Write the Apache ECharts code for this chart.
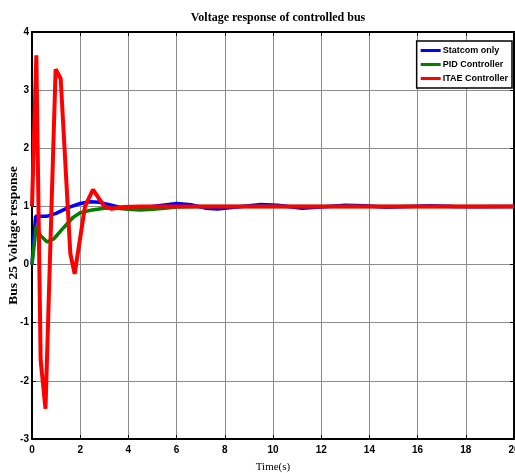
<!DOCTYPE html>
<html>
<head>
<meta charset="utf-8">
<script src="https://cdn.jsdelivr.net/npm/echarts@6/dist/echarts.min.js"></script>
<style>
  html, body { margin: 0; padding: 0; background: #fff; }
  #main { width: 515px; height: 473px; }
</style>
</head>
<body>
<div id="main"></div>
<script>
// 从图上读出来的数据 [时间, 电压]
var statcomOnly = [
    [0, 0], [0.08, 0.5], [0.15, 0.83], [0.6, 0.83], [1.0, 0.88], [1.5, 0.98],
    [2.0, 1.05], [2.4, 1.08], [2.8, 1.07], [3.3, 1.02], [3.8, 0.97], [4.2, 0.96],
    [5.0, 1.0], [6.0, 1.05], [6.6, 1.03], [7.2, 0.97], [7.7, 0.955], [8.5, 0.99],
    [9.5, 1.035], [10.2, 1.02], [11.2, 0.97], [12.0, 0.99], [13.0, 1.02],
    [13.8, 1.01], [14.7, 0.985], [15.6, 1.0], [16.5, 1.01], [17.5, 1.0],
    [18.3, 0.995], [20, 1.0]
];
var pidController = [
    [0, 0], [0.18, 0.67], [0.35, 0.5], [0.63, 0.39], [0.9, 0.44], [1.3, 0.63],
    [1.7, 0.81], [2.0, 0.89], [2.5, 0.94], [3.0, 0.97], [3.5, 0.97], [4.0, 0.95],
    [4.5, 0.94], [5.0, 0.95], [5.5, 0.97], [6.0, 0.99], [7.0, 1.0], [20, 1.0]
];
var itaeController = [
    [0, 1.0], [0.18, 3.6], [0.36, -1.65], [0.56, -2.48], [0.98, 3.36],
    [1.19, 3.2], [1.59, 0.19], [1.77, -0.16], [2.2, 1.0], [2.53, 1.29],
    [3.0, 1.0], [3.3, 0.96], [3.8, 0.99], [4.5, 1.0], [20, 1.0]
];

var chart = echarts.init(document.getElementById('main'));

var tickFont = {
    fontFamily: '"Liberation Sans Narrow", "Liberation Sans", Arial, sans-serif',
    fontWeight: 'bold',
    fontSize: 10,
    color: '#000'
};

var frameLine = { onZero: false, lineStyle: { color: '#000', width: 2 } };
var frameTick = { inside: true, length: 4, lineStyle: { color: '#000' } };

var option = {
    animation: false,
    backgroundColor: '#fff',
    title: {
        text: 'Voltage response of controlled bus',
        left: 273,
        top: 7,
        textAlign: 'center',
        textStyle: {
            fontFamily: '"Liberation Serif", "Times New Roman", serif',
            fontWeight: 'bold',
            fontSize: 12,
            color: '#000'
        }
    },
    legend: {
        orient: 'vertical',
        right: 3,
        top: 41,
        icon: 'rect',
        itemWidth: 20,
        itemHeight: 3,
        itemGap: 5,
        padding: [5, 4, 5, 4],
        borderColor: '#000',
        borderWidth: 1.5,
        backgroundColor: '#fff',
        textStyle: {
            fontFamily: tickFont.fontFamily,
            fontWeight: 'bold',
            fontSize: 9,
            color: '#000',
            padding: [0, 0, 0, -3]
        },
        data: ['Statcom only', 'PID Controller', 'ITAE Controller']
    },
    grid: {
        left: 32,
        right: 1,
        top: 32,
        bottom: 34,
        outerBoundsMode: 'none',
        containLabel: false
    },
    xAxis: [
        {
            type: 'value',
            min: 0,
            max: 20,
            interval: 2,
            name: 'Time(s)',
            nameLocation: 'middle',
            nameGap: 23,
            nameMoveOverlap: false,
            nameTextStyle: {
                fontFamily: '"Liberation Serif", "Times New Roman", serif',
                fontSize: 11,
                color: '#000'
            },
            axisLine: frameLine,
            axisTick: frameTick,
            axisLabel: Object.assign({ margin: 6 }, tickFont),
            splitLine: { show: true, lineStyle: { color: '#8c8c8c', width: 1 } }
        },
        {
            type: 'value',
            position: 'top',
            min: 0,
            max: 20,
            interval: 2,
            axisLine: frameLine,
            axisTick: frameTick,
            axisLabel: { show: false },
            splitLine: { show: false }
        }
    ],
    yAxis: [
        {
            type: 'value',
            min: -3,
            max: 4,
            interval: 1,
            name: 'Bus 25 Voltage response',
            nameLocation: 'middle',
            nameGap: 11,
            nameMoveOverlap: false,
            nameTextStyle: {
                fontFamily: '"Liberation Serif", "Times New Roman", serif',
                fontWeight: 'bold',
                fontSize: 13.5,
                color: '#000'
            },
            axisLine: frameLine,
            axisTick: frameTick,
            axisLabel: Object.assign({ margin: 3 }, tickFont),
            splitLine: { show: true, lineStyle: { color: '#8c8c8c', width: 1 } }
        },
        {
            type: 'value',
            position: 'right',
            min: -3,
            max: 4,
            interval: 1,
            axisLine: frameLine,
            axisTick: frameTick,
            axisLabel: { show: false },
            splitLine: { show: false }
        }
    ],
    series: [
        {
            name: 'Statcom only',
            type: 'line',
            symbol: 'none',
            data: statcomOnly,
            itemStyle: { color: '#0000ff' },
            lineStyle: { color: '#0000ff', width: 3.5 }
        },
        {
            name: 'PID Controller',
            type: 'line',
            symbol: 'none',
            data: pidController,
            itemStyle: { color: '#008000' },
            lineStyle: { color: '#008000', width: 3.5 }
        },
        {
            name: 'ITAE Controller',
            type: 'line',
            symbol: 'none',
            data: itaeController,
            itemStyle: { color: '#ff0000' },
            lineStyle: { color: '#ff0000', width: 4 }
        }
    ]
};

chart.setOption(option);

window.addEventListener('resize', function () {
    chart.resize();
});
</script>
</body>
</html>
